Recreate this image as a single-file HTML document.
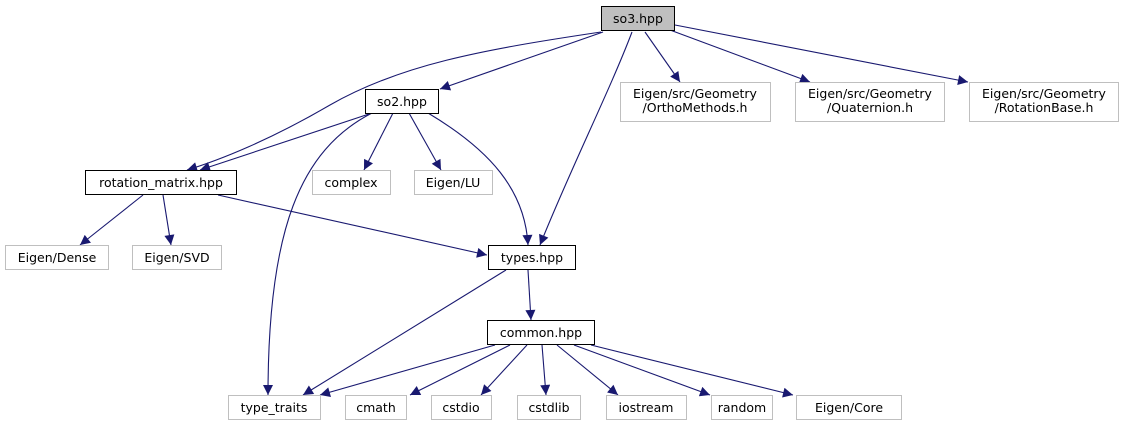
<!DOCTYPE html>
<html><head><meta charset="utf-8"><style>body{margin:0;background:#fff}svg{display:block}text{font-family:"DejaVu Sans","Liberation Sans",sans-serif;font-size:12.5px;text-anchor:middle;fill:#000}</style></head><body>
<svg width="1125" height="425" viewBox="0 0 1125 425" xmlns="http://www.w3.org/2000/svg">
<defs><marker id="a" viewBox="0 0 10 10" refX="10" refY="5" markerWidth="12" markerHeight="10" markerUnits="userSpaceOnUse" orient="auto"><path d="M0,0L10,5L0,10z" fill="#191970"/></marker></defs>
<g fill="none" stroke="#191970" stroke-width="1.1" marker-end="url(#a)">
<path d="M601,32 C480,50 400,65 330,105 C270,140 220,160 187,170"/>
<path d="M603,32 L440,89"/>
<path d="M632,32 C610,90 570,170 540,245"/>
<path d="M645,32 L680,82"/>
<path d="M670,30 L810,82"/>
<path d="M675,25 L968,82"/>
<path d="M372,113 L200,170"/>
<path d="M372,113 C300,150 268,230 268,395"/>
<path d="M393,113 L364,170"/>
<path d="M409,113 L441,170"/>
<path d="M428,113 C490,150 525,190 528,245"/>
<path d="M143,195 L80,245"/>
<path d="M163,195 L171,245"/>
<path d="M218,195 L487,255"/>
<path d="M506,270 L303,395"/>
<path d="M528,270 L531,320"/>
<path d="M495,345 L320,395"/>
<path d="M510,345 L410,395"/>
<path d="M527,345 L481,395"/>
<path d="M542,345 L546,395"/>
<path d="M557,345 L618,395"/>
<path d="M574,345 L710,395"/>
<path d="M591,345 L793,395"/>
</g>
<g stroke-width="1">
<rect x="601.5" y="6.5" width="73" height="24" fill="#bfbfbf" stroke="#000"/>
<g fill="#fff" stroke="#000">
<rect x="365.5" y="89.5" width="73" height="24"/>
<rect x="85.5" y="170.5" width="151" height="24"/>
<rect x="488.5" y="245.5" width="87" height="24"/>
<rect x="487.5" y="320.5" width="107" height="24"/>
</g>
<g fill="#fff" stroke="#bfbfbf">
<rect x="620.5" y="82.5" width="150" height="39"/>
<rect x="795.5" y="82.5" width="149" height="39"/>
<rect x="969.5" y="82.5" width="149" height="39"/>
<rect x="312.5" y="170.5" width="78" height="24"/>
<rect x="414.5" y="170.5" width="78" height="24"/>
<rect x="5.5" y="245.5" width="103" height="24"/>
<rect x="132.5" y="245.5" width="89" height="24"/>
<rect x="228.5" y="395.5" width="92" height="24"/>
<rect x="345.5" y="395.5" width="61" height="24"/>
<rect x="431.5" y="395.5" width="60" height="24"/>
<rect x="517.5" y="395.5" width="63" height="24"/>
<rect x="606.5" y="395.5" width="80" height="24"/>
<rect x="711.5" y="395.5" width="61" height="24"/>
<rect x="796.5" y="395.5" width="105" height="24"/>
</g></g>
<text x="638" y="23">so3.hpp</text>
<text x="402" y="106">so2.hpp</text>
<text x="695" y="98">Eigen/src/Geometry</text><text x="695" y="112">/OrthoMethods.h</text>
<text x="870" y="98">Eigen/src/Geometry</text><text x="870" y="112">/Quaternion.h</text>
<text x="1044" y="98">Eigen/src/Geometry</text><text x="1044" y="112">/RotationBase.h</text>
<text x="161" y="187">rotation_matrix.hpp</text>
<text x="351" y="187">complex</text>
<text x="453" y="187">Eigen/LU</text>
<text x="57" y="262">Eigen/Dense</text>
<text x="177" y="262">Eigen/SVD</text>
<text x="532" y="262">types.hpp</text>
<text x="541" y="337">common.hpp</text>
<text x="274" y="412">type_traits</text>
<text x="376" y="412">cmath</text>
<text x="461" y="412">cstdio</text>
<text x="549" y="412">cstdlib</text>
<text x="646" y="412">iostream</text>
<text x="742" y="412">random</text>
<text x="849" y="412">Eigen/Core</text>
</svg>
</body></html>
